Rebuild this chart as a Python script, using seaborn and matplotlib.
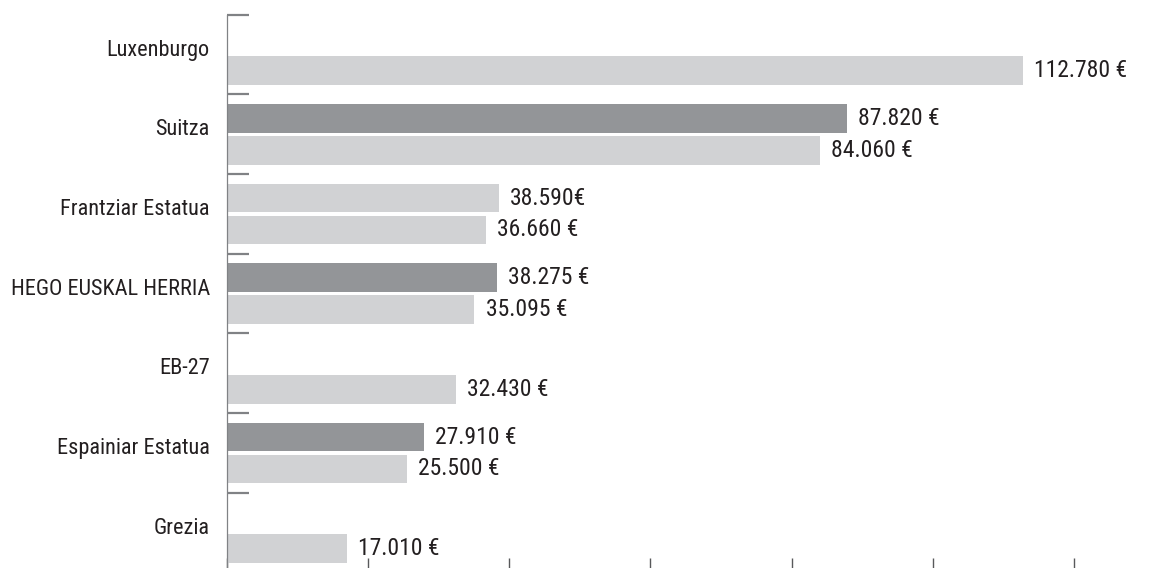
import numpy as np
import pandas as pd
import matplotlib
matplotlib.use("Agg")
import matplotlib.pyplot as plt
import seaborn as sns

# ---------------- data ----------------
categories = ["Luxenburgo", "Suitza", "Frantziar Estatua", "HEGO EUSKAL HERRIA",
              "EB-27", "Espainiar Estatua", "Grezia"]
# upper bar of each category (None = no upper bar)
upper_values = [None, 87820, 38590, 38275, None, 27910, None]
upper_labels = ["", "87.820 €", "38.590€", "38.275 €", "", "27.910 €", ""]
upper_shade = [None, "dark", "light", "dark", None, "dark", None]
# lower bar of each category
lower_values = [112780, 84060, 36660, 35095, 32430, 25500, 17010]
lower_labels = ["112.780 €", "84.060 €", "36.660 €", "35.095 €", "32.430 €", "25.500 €", "17.010 €"]
lower_shade = ["light"] * 7
x_ticks = [0, 20000, 40000, 60000, 80000, 100000, 120000]

# ---------------- style ----------------
LIGHT = "#d1d2d4"
DARK = "#939598"
AXIS = "#808285"
TEXT = "#231f20"
palette = {"light": LIGHT, "dark": DARK}

sns.set_theme(style="white")
plt.rcParams["font.family"] = ["Roboto Condensed", "DejaVu Sans"]

fig = plt.figure(figsize=(11.51, 5.68), dpi=100)
W, H = 1151, 568
x0_px, x1_px = 226.5, 1074.3
top_px, bot_px = 14.7, 572.6
ax = fig.add_axes([x0_px / W, 1 - bot_px / H, (x1_px - x0_px) / W, (bot_px - top_px) / H])

OFF = 0.2
BAR_H = 0.36

idx = np.arange(len(categories))
up = pd.DataFrame({"pos": idx - OFF, "value": upper_values, "shade": upper_shade,
                   "label": upper_labels}).dropna(subset=["value"])
lo = pd.DataFrame({"pos": idx + OFF, "value": lower_values, "shade": lower_shade,
                   "label": lower_labels})

for df in (up, lo):
    sns.barplot(data=df, x="value", y="pos", hue="shade", palette=palette, orient="y",
                native_scale=True, width=BAR_H, dodge=False, legend=False,
                saturation=1, linewidth=0, ax=ax)
    for _, r in df.iterrows():
        ax.annotate(r["label"], xy=(r["value"], r["pos"]), xytext=(8, 0),
                    textcoords="offset points", ha="left", va="center",
                    fontsize=17, color=TEXT, annotation_clip=False)

ax.set_xlim(0, 120000)
ax.set_ylim(len(categories) - 0.5, -0.5)
ax.set_xlabel("")
ax.set_ylabel("")

# y: category labels (major, no tick) and boundary ticks (minor)
ax.set_yticks(idx - 0.088)
ax.set_yticklabels(categories, fontsize=16, color=TEXT)
ax.tick_params(axis="y", which="major", length=0, pad=12)
ax.set_yticks(np.arange(-0.5, len(categories)), minor=True)
ax.tick_params(axis="y", which="minor", direction="in", length=15.5, width=1.6, color=AXIS,
               left=True)

# x: bare ticks pointing inward
ax.set_xticks(x_ticks)
ax.set_xticklabels([""] * len(x_ticks))
ax.tick_params(axis="x", which="major", direction="in", length=10.5, width=1.0,
               color="#58595b", bottom=True)

for s in ("top", "right", "bottom"):
    ax.spines[s].set_visible(False)
ax.spines["left"].set_color(AXIS)
ax.spines["left"].set_linewidth(0.9)
ax.grid(False)

fig.savefig("out.png", dpi=100)
